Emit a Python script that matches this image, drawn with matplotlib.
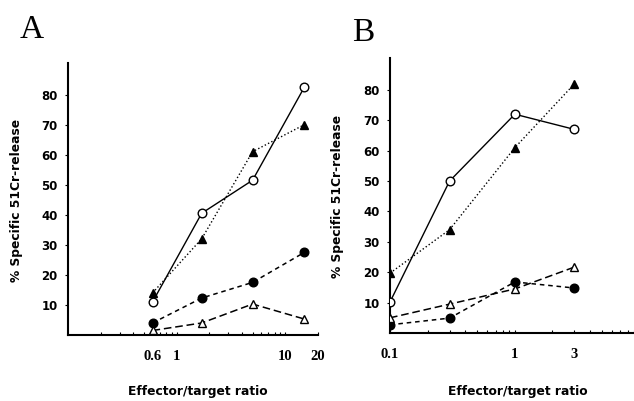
import matplotlib
matplotlib.use("Agg")
import matplotlib.pyplot as plt
from matplotlib.ticker import FixedLocator, FixedFormatter, LogLocator, NullFormatter

# Panel A data
a_x = [0.6, 1.7, 5, 15]
a_open_circle = [11, 40.5, 51.5, 82.5]
a_filled_tri = [14, 32, 61, 70]
a_filled_circle = [4, 12.3, 17.5, 27.5]
a_open_tri = [1.5, 4, 10.3, 5.3]
a_xticks = [0.6, 1, 10, 20]
a_xticklabels = ["0.6", "1", "10", "20"]

# Panel B data
b_x = [0.1, 0.3, 1, 3]
b_open_circle = [10.2, 50, 72, 67]
b_filled_tri = [19.7, 34, 61, 82]
b_open_tri = [5, 9.5, 14.5, 21.7]
b_filled_circle = [2.7, 4.9, 16.8, 14.8]
b_xticks = [0.1, 1, 3]
b_xticklabels = ["0.1", "1", "3"]

yticks = [10, 20, 30, 40, 50, 60, 70, 80]

fig = plt.figure(figsize=(6.34, 4.01), dpi=100)
axA = fig.add_axes([68/634, 1-335/401, 250/634, 272/401])
axB = fig.add_axes([390/634, 1-333/401, 244/634, 275/401])

def draw(ax, x, oc, ft, fc, ot):
    ax.plot(x, oc, '-', color='black', lw=1.0, marker='o', mfc='white', mec='black', ms=6.2, mew=1.0, zorder=4)
    ax.plot(x, ft, ':', color='black', lw=1.0, marker='^', mfc='black', mec='black', ms=6.2, zorder=3)
    ax.plot(x, fc, '--', color='black', lw=1.1, dashes=(3, 2.5), marker='o', mfc='black', mec='black', ms=6.2, zorder=3)
    ax.plot(x, ot, '--', color='black', lw=1.1, dashes=(5, 2.5), marker='^', mfc='white', mec='black', ms=6.2, mew=1.0, zorder=3)

draw(axA, a_x, a_open_circle, a_filled_tri, a_filled_circle, a_open_tri)
draw(axB, b_x, b_open_circle, b_filled_tri, b_filled_circle, b_open_tri)

for ax, xlim, xt, xtl in [(axA, (0.1, 20), a_xticks, a_xticklabels),
                           (axB, (0.1, 9), b_xticks, b_xticklabels)]:
    ax.set_xscale('log')
    ax.set_xlim(*xlim)
    ax.set_ylim(0, 90.5)
    for s in ['top', 'right']:
        ax.spines[s].set_visible(False)
    for s in ['left', 'bottom']:
        ax.spines[s].set_linewidth(1.5)
    ax.xaxis.set_major_locator(FixedLocator(xt))
    ax.xaxis.set_major_formatter(FixedFormatter(xtl))
    ax.xaxis.set_minor_locator(LogLocator(base=10, subs=range(2, 10)))
    ax.xaxis.set_minor_formatter(NullFormatter())
    ax.set_yticks(yticks)
    ax.tick_params(axis='x', which='both', direction='in', length=2.5, width=0.8, pad=11)
    ax.tick_params(axis='y', which='major', direction='out', length=2.5, width=0.8, pad=5)
    for lab in ax.get_xticklabels():
        lab.set_fontfamily('Liberation Serif')
        lab.set_fontweight('bold')
        lab.set_fontsize(10.5)
    for lab in ax.get_yticklabels():
        lab.set_fontfamily('DejaVu Sans')
        lab.set_fontweight('bold')
        lab.set_fontsize(8.5)

fig.text(32/634, 1-30/401, "A", fontsize=24, family='Liberation Serif', ha='center', va='center')
fig.text(363/634, 1-33/401, "B", fontsize=24, family='Liberation Serif', ha='center', va='center')

for x, y in [(17, 200), (337, 196)]:
    fig.text(x/634, 1-y/401, "% Specific 51Cr-release", rotation=90, fontsize=8.8,
             fontweight='bold', family='DejaVu Sans', ha='center', va='center')
for x in [198, 518]:
    fig.text(x/634, 1-392/401, "Effector/target ratio", fontsize=8.8,
             fontweight='bold', family='DejaVu Sans', ha='center', va='center')

fig.savefig("out.png", dpi=100)
